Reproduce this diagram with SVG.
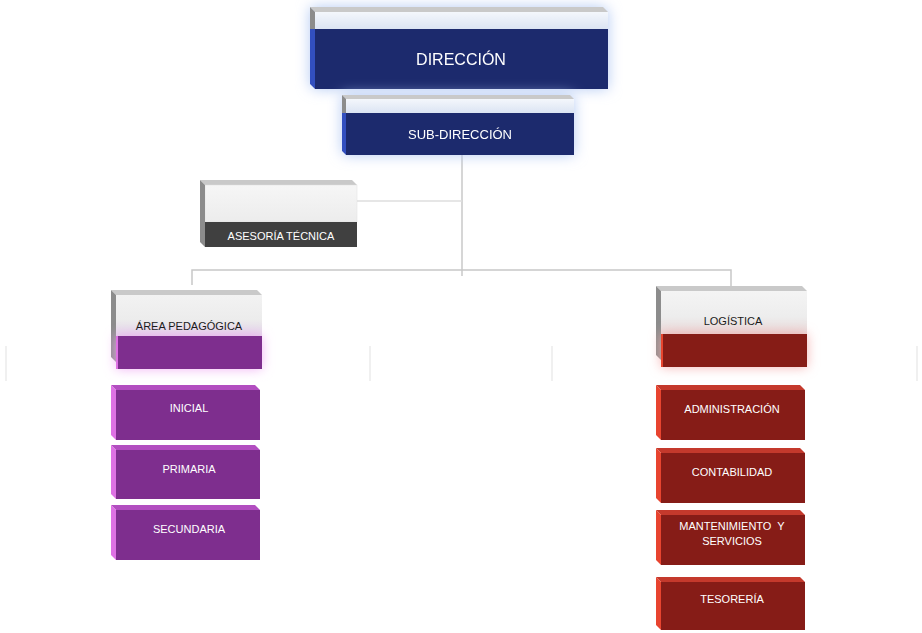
<svg xmlns="http://www.w3.org/2000/svg" width="922" height="633" viewBox="0 0 922 633">
<defs>
<style>
text{font-family:"Liberation Sans",Arial,sans-serif;text-anchor:middle}
.wt{fill:#ffffff}
.dk{fill:#1a1a1a}
.conn{stroke:#c8c8c8;stroke-width:1.5;fill:none}
.faint{stroke:#ececec;stroke-width:1.5;fill:none}
.topg{fill:#c9c9c9}
.leftg{fill:#8c8c8c}
.navy{fill:#1d2a6d}
.navyl{fill:#3150bf}
.pf{fill:#7e2e8e}
.pt{fill:#b24ec0}
.pl{fill:#de72e4}
.rf{fill:#861c17}
.rt{fill:#c4392c}
.rl{fill:#e8442f}
</style>
<linearGradient id="gBlue" x1="0" y1="0" x2="0" y2="1">
<stop offset="0" stop-color="#f4f7fc"/><stop offset="1" stop-color="#dbe4f3"/>
</linearGradient>
<linearGradient id="gGrey" x1="0" y1="0" x2="0" y2="1">
<stop offset="0" stop-color="#f6f6f6"/><stop offset="1" stop-color="#ececec"/>
</linearGradient>
<linearGradient id="gPurp" x1="0" y1="0" x2="0" y2="1">
<stop offset="0" stop-color="#f2f2f2"/><stop offset="0.6" stop-color="#ececec"/><stop offset="1" stop-color="#e2d2e8"/>
</linearGradient>
<linearGradient id="gRed" x1="0" y1="0" x2="0" y2="1">
<stop offset="0" stop-color="#f4f4f4"/><stop offset="0.6" stop-color="#ededed"/><stop offset="1" stop-color="#e8d8d8"/>
</linearGradient>
<filter id="glowB" x="-20%" y="-40%" width="140%" height="180%">
<feFlood flood-color="#b4caf4" flood-opacity="1"/>
<feComposite in2="SourceAlpha" operator="in"/>
<feGaussianBlur stdDeviation="7"/>
<feMerge><feMergeNode/><feMergeNode in="SourceGraphic"/></feMerge>
</filter>
<filter id="glowP" x="-20%" y="-60%" width="140%" height="220%">
<feFlood flood-color="#f0a8f4" flood-opacity="0.9"/>
<feComposite in2="SourceAlpha" operator="in"/>
<feGaussianBlur stdDeviation="6"/>
<feMerge><feMergeNode/><feMergeNode in="SourceGraphic"/></feMerge>
</filter>
<filter id="glowR" x="-20%" y="-60%" width="140%" height="220%">
<feFlood flood-color="#f4a8a8" flood-opacity="0.9"/>
<feComposite in2="SourceAlpha" operator="in"/>
<feGaussianBlur stdDeviation="6"/>
<feMerge><feMergeNode/><feMergeNode in="SourceGraphic"/></feMerge>
</filter>
</defs>
<rect width="922" height="633" fill="#ffffff"/>

<g id="connectors">
<path class="conn" d="M462 155 V276"/>
<path class="conn" d="M192 285 V270 H731 V287"/>
<path class="conn" d="M357 201 H462" style="stroke:#dedede"/>
<path class="faint" d="M6 346 V381 M370 346 V381 M552 346 V381 M917 346 V381"/>
</g>

<g id="direccion" filter="url(#glowB)">
<polygon class="topg" points="310,7 603,7 608,12 315,12"/>
<rect x="315" y="12" width="293" height="17" fill="url(#gBlue)"/>
<rect class="navy" x="315" y="29" width="293" height="60"/>
<polygon class="leftg" points="310,7 315,12 315,29 310,29"/>
<polygon class="navyl" points="310,29 315,29 315,89 310,84"/>
<text class="wt" x="461" y="65" font-size="16">DIRECCIÓN</text>
</g>

<g id="subdireccion" filter="url(#glowB)">
<polygon class="topg" points="342,95 570,95 574,99 346,99"/>
<rect x="346" y="99" width="228" height="14" fill="url(#gBlue)"/>
<rect class="navy" x="346" y="113" width="228" height="42"/>
<polygon class="leftg" points="342,95 346,99 346,113 342,113"/>
<polygon class="navyl" points="342,113 346,113 346,155 342,151"/>
<text class="wt" x="460" y="139" font-size="13">SUB-DIRECCIÓN</text>
</g>

<g id="asesoria">
<polygon class="topg" points="200,180 352,180 357,185 205,185"/>
<rect x="205" y="185" width="152" height="37" fill="url(#gGrey)" stroke="#e0e0e0" stroke-width="0.5"/>
<rect x="205" y="222" width="152" height="25" fill="#404040"/>
<polygon class="leftg" points="200,180 205,185 205,247 200,242"/>
<text class="wt" x="281" y="240" font-size="11">ASESORÍA TÉCNICA</text>
</g>

<g id="area-pedagogica">
<polygon class="topg" points="111,290 257,290 262,295 116,295"/>
<rect x="116" y="295" width="146" height="41" fill="url(#gPurp)"/>
<polygon class="leftg" points="111,290 116,295 116,362 111,357"/>
<g filter="url(#glowP)">
<rect class="pf" x="116" y="336" width="146" height="33"/>
<rect class="pl" x="116" y="336" width="2" height="33"/>
</g>
<text class="dk" x="189" y="330" font-size="11">ÁREA PEDAGÓGICA</text>
</g>

<g id="logistica">
<polygon class="topg" points="656,286 802,286 807,291 661,291"/>
<rect x="661" y="291" width="146" height="43" fill="url(#gRed)"/>
<polygon class="leftg" points="656,286 661,291 661,360 656,355"/>
<g filter="url(#glowR)">
<rect class="rf" x="661" y="334" width="146" height="33"/>
<rect class="rl" x="661" y="334" width="2" height="33"/>
</g>
<text class="dk" x="733" y="325" font-size="11">LOGÍSTICA</text>
</g>

<g id="inicial">
<polygon class="pt" points="111,385 255,385 260,390 116,390"/>
<rect class="pf" x="116" y="390" width="144" height="50"/>
<polygon class="pl" points="111,385 116,390 116,440 111,435"/>
<text class="wt" x="189" y="412" font-size="11">INICIAL</text>
</g>
<g id="primaria">
<polygon class="pt" points="111,445 255,445 260,450 116,450"/>
<rect class="pf" x="116" y="450" width="144" height="49"/>
<polygon class="pl" points="111,445 116,450 116,499 111,494"/>
<text class="wt" x="189" y="473" font-size="11">PRIMARIA</text>
</g>
<g id="secundaria">
<polygon class="pt" points="111,505 255,505 260,510 116,510"/>
<rect class="pf" x="116" y="510" width="144" height="50"/>
<polygon class="pl" points="111,505 116,510 116,560 111,555"/>
<text class="wt" x="189" y="533" font-size="11">SECUNDARIA</text>
</g>

<g id="administracion">
<polygon class="rt" points="656,385 800,385 805,390 661,390"/>
<rect class="rf" x="661" y="390" width="144" height="50"/>
<polygon class="rl" points="656,385 661,390 661,440 656,435"/>
<text class="wt" x="732" y="413" font-size="11">ADMINISTRACIÓN</text>
</g>
<g id="contabilidad">
<polygon class="rt" points="656,448 800,448 805,453 661,453"/>
<rect class="rf" x="661" y="453" width="144" height="50"/>
<polygon class="rl" points="656,448 661,453 661,503 656,498"/>
<text class="wt" x="732" y="476" font-size="11">CONTABILIDAD</text>
</g>
<g id="mantenimiento">
<polygon class="rt" points="656,510 800,510 805,515 661,515"/>
<rect class="rf" x="661" y="515" width="144" height="50"/>
<polygon class="rl" points="656,510 661,515 661,565 656,560"/>
<text class="wt" x="732" y="530" font-size="11" xml:space="preserve">MANTENIMIENTO  Y</text>
<text class="wt" x="732" y="545" font-size="11">SERVICIOS</text>
</g>
<g id="tesoreria">
<polygon class="rt" points="656,577 800,577 805,582 661,582"/>
<rect class="rf" x="661" y="582" width="144" height="48"/>
<polygon class="rl" points="656,577 661,582 661,630 656,625"/>
<text class="wt" x="732" y="603" font-size="11">TESORERÍA</text>
</g>
</svg>
